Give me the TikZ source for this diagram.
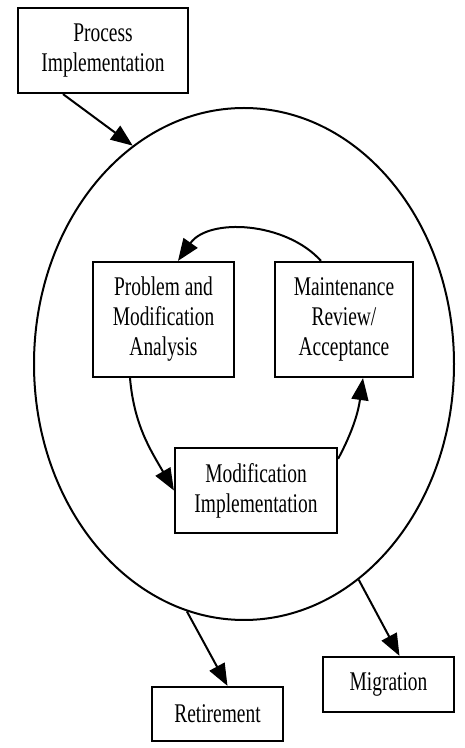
\documentclass[tikz,border=0pt]{standalone}
\usepackage{fontspec}
\setmainfont{Liberation Serif}[FakeStretch=0.72]
\usepackage{tikz}
\usetikzlibrary{shapes.geometric, arrows.meta, positioning}

\begin{document}
\begin{tikzpicture}[
    x=1pt, y=1pt,
    box/.style={rectangle, draw, line width=2.2pt, inner sep=0pt, align=center, font=\fontsize{27}{30}\selectfont},
    arrow/.style={-{Triangle[length=22pt,width=17pt]}, line width=2pt}
]
\useasboundingbox (0,0) rectangle (464,748);

% Maintenance loop
\node[ellipse, draw, line width=2pt, minimum width=420pt, minimum height=512pt, inner sep=0pt] (outer) at (244,384) {};

% Process Implementation
\node[box, minimum width=170pt, minimum height=85pt] (proc) at (103,697.5) {Process\\Implementation};

% Inner activities
\node[box, minimum width=141pt, minimum height=115pt] (prob) at (163.5,428.5) {Problem and\\Modification\\Analysis};
\node[box, minimum width=138pt, minimum height=115pt] (maint) at (344,428.5) {Maintenance\\Review/\\Acceptance};
\node[box, minimum width=162pt, minimum height=85pt] (modimp) at (256,257.5) {Modification\\Implementation};

% Retirement and Migration
\node[box, minimum width=131pt, minimum height=54pt] (retire) at (217.5,34) {Retirement};
\node[box, minimum width=131pt, minimum height=55pt] (migr) at (388.5,63.5) {Migration};

% Arrows in and out
\draw[arrow] ([xshift=-40pt]proc.south) -- (outer.117);
\draw[arrow] (outer.257) -- ([xshift=10pt]retire.north);
\draw[arrow] (outer.298) -- ([xshift=11pt]migr.north);

% Cycle
\draw[arrow] ([xshift=-23pt]maint.north) to[out=132, in=55, looseness=0.95] ([xshift=14.5pt]prob.north);
\draw[arrow] ([xshift=-33.5pt]prob.south) to[out=-85, in=120] (modimp.west);
\draw[arrow] ([yshift=-12pt]modimp.north east) to[out=62, in=-98] ([xshift=19pt]maint.south);
\end{tikzpicture}
\end{document}
